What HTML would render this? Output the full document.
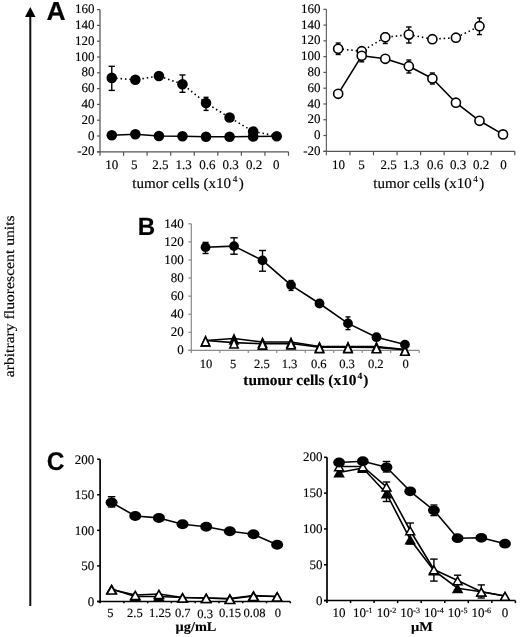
<!DOCTYPE html><html><head><meta charset="utf-8"><style>html,body{margin:0;padding:0;background:#fff;}svg{display:block;will-change:transform;} text{text-rendering:geometricPrecision;stroke:#000;stroke-width:0.15px;}</style></head><body>
<svg width="520" height="637" viewBox="0 0 520 637">
<rect width="520" height="637" fill="#fff"/>
<line x1="30.30" y1="14.00" x2="30.30" y2="606.00" stroke="#111" stroke-width="2" />
<polygon points="30.3,7 25,17 35.5,17" fill="#000"/>
<text transform="translate(13.9,377.3) rotate(-90)" font-size="14" font-family='"Liberation Serif", serif' textLength="162" lengthAdjust="spacingAndGlyphs">arbitrary fluorescent units</text>
<text transform="translate(46.45,19.7) scale(1.02,1)" font-size="26" font-weight="bold" font-family='"Liberation Sans", sans-serif'>A</text>
<text transform="translate(137.8,235.1) scale(0.97,1)" font-size="24.9" font-weight="bold" font-family='"Liberation Sans", sans-serif'>B</text>
<text transform="translate(46.85,469.85) scale(0.96,1)" font-size="25.6" font-weight="bold" font-family='"Liberation Sans", sans-serif'>C</text>
<line x1="100.00" y1="9.60" x2="100.00" y2="155.80" stroke="#7a7a7a" stroke-width="1.6" />
<line x1="97.00" y1="151.80" x2="288.50" y2="151.80" stroke="#555" stroke-width="1.2" />
<line x1="97.00" y1="9.60" x2="100.00" y2="9.60" stroke="#555" stroke-width="1.2" />
<line x1="97.00" y1="25.40" x2="100.00" y2="25.40" stroke="#555" stroke-width="1.2" />
<line x1="97.00" y1="41.20" x2="100.00" y2="41.20" stroke="#555" stroke-width="1.2" />
<line x1="97.00" y1="57.00" x2="100.00" y2="57.00" stroke="#555" stroke-width="1.2" />
<line x1="97.00" y1="72.80" x2="100.00" y2="72.80" stroke="#555" stroke-width="1.2" />
<line x1="97.00" y1="88.60" x2="100.00" y2="88.60" stroke="#555" stroke-width="1.2" />
<line x1="97.00" y1="104.40" x2="100.00" y2="104.40" stroke="#555" stroke-width="1.2" />
<line x1="97.00" y1="120.20" x2="100.00" y2="120.20" stroke="#555" stroke-width="1.2" />
<line x1="97.00" y1="136.00" x2="100.00" y2="136.00" stroke="#555" stroke-width="1.2" />
<line x1="97.00" y1="151.80" x2="100.00" y2="151.80" stroke="#555" stroke-width="1.2" />
<text x="94.50" y="13.20" font-size="13" text-anchor="end" font-weight="normal" font-family='"Liberation Serif", serif' >160</text>
<text x="94.50" y="29.00" font-size="13" text-anchor="end" font-weight="normal" font-family='"Liberation Serif", serif' >140</text>
<text x="94.50" y="44.80" font-size="13" text-anchor="end" font-weight="normal" font-family='"Liberation Serif", serif' >120</text>
<text x="94.50" y="60.60" font-size="13" text-anchor="end" font-weight="normal" font-family='"Liberation Serif", serif' >100</text>
<text x="94.50" y="76.40" font-size="13" text-anchor="end" font-weight="normal" font-family='"Liberation Serif", serif' >80</text>
<text x="94.50" y="92.20" font-size="13" text-anchor="end" font-weight="normal" font-family='"Liberation Serif", serif' >60</text>
<text x="94.50" y="108.00" font-size="13" text-anchor="end" font-weight="normal" font-family='"Liberation Serif", serif' >40</text>
<text x="94.50" y="123.80" font-size="13" text-anchor="end" font-weight="normal" font-family='"Liberation Serif", serif' >20</text>
<text x="94.50" y="139.60" font-size="13" text-anchor="end" font-weight="normal" font-family='"Liberation Serif", serif' >0</text>
<text x="94.50" y="155.40" font-size="13" text-anchor="end" font-weight="normal" font-family='"Liberation Serif", serif' >-20</text>
<line x1="123.56" y1="151.80" x2="123.56" y2="155.80" stroke="#555" stroke-width="1.2" />
<line x1="147.12" y1="151.80" x2="147.12" y2="155.80" stroke="#555" stroke-width="1.2" />
<line x1="170.69" y1="151.80" x2="170.69" y2="155.80" stroke="#555" stroke-width="1.2" />
<line x1="194.25" y1="151.80" x2="194.25" y2="155.80" stroke="#555" stroke-width="1.2" />
<line x1="217.81" y1="151.80" x2="217.81" y2="155.80" stroke="#555" stroke-width="1.2" />
<line x1="241.38" y1="151.80" x2="241.38" y2="155.80" stroke="#555" stroke-width="1.2" />
<line x1="264.94" y1="151.80" x2="264.94" y2="155.80" stroke="#555" stroke-width="1.2" />
<line x1="288.50" y1="151.80" x2="288.50" y2="155.80" stroke="#555" stroke-width="1.2" />
<text x="111.75" y="169.20" font-size="13" text-anchor="middle" font-weight="normal" font-family='"Liberation Serif", serif' >10</text>
<text x="134.30" y="169.20" font-size="13" text-anchor="middle" font-weight="normal" font-family='"Liberation Serif", serif' >5</text>
<text x="160.30" y="169.20" font-size="13" text-anchor="middle" font-weight="normal" font-family='"Liberation Serif", serif' >2.5</text>
<text x="183.65" y="169.20" font-size="13" text-anchor="middle" font-weight="normal" font-family='"Liberation Serif", serif' >1.3</text>
<text x="207.40" y="169.20" font-size="13" text-anchor="middle" font-weight="normal" font-family='"Liberation Serif", serif' >0.6</text>
<text x="230.70" y="169.20" font-size="13" text-anchor="middle" font-weight="normal" font-family='"Liberation Serif", serif' >0.3</text>
<text x="254.00" y="169.20" font-size="13" text-anchor="middle" font-weight="normal" font-family='"Liberation Serif", serif' >0.2</text>
<text x="276.35" y="169.20" font-size="13" text-anchor="middle" font-weight="normal" font-family='"Liberation Serif", serif' >0</text>
<text x="132.30" y="187.50" font-size="14.8" text-anchor="start" font-weight="normal" font-family='"Liberation Serif", serif' textLength="111.5" lengthAdjust="spacingAndGlyphs" >tumor cells (x10<tspan font-size="9" dy="-6" dx="1.6">4</tspan><tspan dy="6" dx="1.4">)</tspan></text>
<polyline points="111.78,77.90 135.34,79.80 158.91,76.00 182.47,84.20 206.03,103.10 229.59,117.50 253.16,131.50 276.72,136.00" fill="none" stroke="#000" stroke-width="1.6" stroke-linejoin="round" stroke-dasharray="1.5 2.9"/>
<polyline points="111.78,135.20 135.34,134.30 158.91,136.00 182.47,136.20 206.03,136.70 229.59,136.70 253.16,136.50 276.72,136.30" fill="none" stroke="#000" stroke-width="1.6" stroke-linejoin="round" />
<line x1="111.78" y1="66.30" x2="111.78" y2="90.40" stroke="#000" stroke-width="1.4" />
<line x1="108.63" y1="66.30" x2="114.93" y2="66.30" stroke="#000" stroke-width="1.4" />
<line x1="108.63" y1="90.40" x2="114.93" y2="90.40" stroke="#000" stroke-width="1.4" />
<line x1="182.47" y1="75.00" x2="182.47" y2="92.30" stroke="#000" stroke-width="1.4" />
<line x1="179.47" y1="75.00" x2="185.47" y2="75.00" stroke="#000" stroke-width="1.4" />
<line x1="179.47" y1="92.30" x2="185.47" y2="92.30" stroke="#000" stroke-width="1.4" />
<line x1="206.03" y1="97.30" x2="206.03" y2="110.40" stroke="#000" stroke-width="1.4" />
<line x1="203.53" y1="97.30" x2="208.53" y2="97.30" stroke="#000" stroke-width="1.4" />
<line x1="203.53" y1="110.40" x2="208.53" y2="110.40" stroke="#000" stroke-width="1.4" />
<circle cx="111.78" cy="77.90" r="5.3" fill="#000" stroke="none" stroke-width="0"/>
<circle cx="135.34" cy="79.80" r="5.3" fill="#000" stroke="none" stroke-width="0"/>
<circle cx="158.91" cy="76.00" r="5.3" fill="#000" stroke="none" stroke-width="0"/>
<circle cx="182.47" cy="84.20" r="5.3" fill="#000" stroke="none" stroke-width="0"/>
<circle cx="206.03" cy="103.10" r="5.3" fill="#000" stroke="none" stroke-width="0"/>
<circle cx="229.59" cy="117.50" r="5.3" fill="#000" stroke="none" stroke-width="0"/>
<circle cx="253.16" cy="131.50" r="5.3" fill="#000" stroke="none" stroke-width="0"/>
<circle cx="111.78" cy="135.20" r="5.3" fill="#000" stroke="none" stroke-width="0"/>
<circle cx="135.34" cy="134.30" r="5.3" fill="#000" stroke="none" stroke-width="0"/>
<circle cx="158.91" cy="136.00" r="5.3" fill="#000" stroke="none" stroke-width="0"/>
<circle cx="182.47" cy="136.20" r="5.3" fill="#000" stroke="none" stroke-width="0"/>
<circle cx="206.03" cy="136.70" r="5.3" fill="#000" stroke="none" stroke-width="0"/>
<circle cx="229.59" cy="136.70" r="5.3" fill="#000" stroke="none" stroke-width="0"/>
<circle cx="253.16" cy="136.50" r="5.3" fill="#000" stroke="none" stroke-width="0"/>
<circle cx="276.72" cy="136.30" r="5.3" fill="#000" stroke="none" stroke-width="0"/>
<line x1="326.40" y1="9.30" x2="326.40" y2="155.30" stroke="#666" stroke-width="1.2" />
<line x1="323.40" y1="151.30" x2="514.80" y2="151.30" stroke="#555" stroke-width="1.2" />
<line x1="323.40" y1="9.30" x2="326.40" y2="9.30" stroke="#555" stroke-width="1.2" />
<line x1="323.40" y1="25.08" x2="326.40" y2="25.08" stroke="#555" stroke-width="1.2" />
<line x1="323.40" y1="40.86" x2="326.40" y2="40.86" stroke="#555" stroke-width="1.2" />
<line x1="323.40" y1="56.63" x2="326.40" y2="56.63" stroke="#555" stroke-width="1.2" />
<line x1="323.40" y1="72.41" x2="326.40" y2="72.41" stroke="#555" stroke-width="1.2" />
<line x1="323.40" y1="88.19" x2="326.40" y2="88.19" stroke="#555" stroke-width="1.2" />
<line x1="323.40" y1="103.97" x2="326.40" y2="103.97" stroke="#555" stroke-width="1.2" />
<line x1="323.40" y1="119.74" x2="326.40" y2="119.74" stroke="#555" stroke-width="1.2" />
<line x1="323.40" y1="135.52" x2="326.40" y2="135.52" stroke="#555" stroke-width="1.2" />
<line x1="323.40" y1="151.30" x2="326.40" y2="151.30" stroke="#555" stroke-width="1.2" />
<text x="320.50" y="12.90" font-size="13" text-anchor="end" font-weight="normal" font-family='"Liberation Serif", serif' >160</text>
<text x="320.50" y="28.68" font-size="13" text-anchor="end" font-weight="normal" font-family='"Liberation Serif", serif' >140</text>
<text x="320.50" y="44.46" font-size="13" text-anchor="end" font-weight="normal" font-family='"Liberation Serif", serif' >120</text>
<text x="320.50" y="60.23" font-size="13" text-anchor="end" font-weight="normal" font-family='"Liberation Serif", serif' >100</text>
<text x="320.50" y="76.01" font-size="13" text-anchor="end" font-weight="normal" font-family='"Liberation Serif", serif' >80</text>
<text x="320.50" y="91.79" font-size="13" text-anchor="end" font-weight="normal" font-family='"Liberation Serif", serif' >60</text>
<text x="320.50" y="107.57" font-size="13" text-anchor="end" font-weight="normal" font-family='"Liberation Serif", serif' >40</text>
<text x="320.50" y="123.34" font-size="13" text-anchor="end" font-weight="normal" font-family='"Liberation Serif", serif' >20</text>
<text x="320.50" y="139.12" font-size="13" text-anchor="end" font-weight="normal" font-family='"Liberation Serif", serif' >0</text>
<text x="320.50" y="154.90" font-size="13" text-anchor="end" font-weight="normal" font-family='"Liberation Serif", serif' >-20</text>
<line x1="349.95" y1="151.30" x2="349.95" y2="155.30" stroke="#555" stroke-width="1.2" />
<line x1="373.50" y1="151.30" x2="373.50" y2="155.30" stroke="#555" stroke-width="1.2" />
<line x1="397.05" y1="151.30" x2="397.05" y2="155.30" stroke="#555" stroke-width="1.2" />
<line x1="420.60" y1="151.30" x2="420.60" y2="155.30" stroke="#555" stroke-width="1.2" />
<line x1="444.15" y1="151.30" x2="444.15" y2="155.30" stroke="#555" stroke-width="1.2" />
<line x1="467.70" y1="151.30" x2="467.70" y2="155.30" stroke="#555" stroke-width="1.2" />
<line x1="491.25" y1="151.30" x2="491.25" y2="155.30" stroke="#555" stroke-width="1.2" />
<line x1="514.80" y1="151.30" x2="514.80" y2="155.30" stroke="#555" stroke-width="1.2" />
<text x="338.60" y="168.90" font-size="13" text-anchor="middle" font-weight="normal" font-family='"Liberation Serif", serif' >10</text>
<text x="361.60" y="168.90" font-size="13" text-anchor="middle" font-weight="normal" font-family='"Liberation Serif", serif' >5</text>
<text x="388.60" y="168.90" font-size="13" text-anchor="middle" font-weight="normal" font-family='"Liberation Serif", serif' >2.5</text>
<text x="411.20" y="168.90" font-size="13" text-anchor="middle" font-weight="normal" font-family='"Liberation Serif", serif' >1.3</text>
<text x="435.00" y="168.90" font-size="13" text-anchor="middle" font-weight="normal" font-family='"Liberation Serif", serif' >0.6</text>
<text x="458.00" y="168.90" font-size="13" text-anchor="middle" font-weight="normal" font-family='"Liberation Serif", serif' >0.3</text>
<text x="481.00" y="168.90" font-size="13" text-anchor="middle" font-weight="normal" font-family='"Liberation Serif", serif' >0.2</text>
<text x="503.60" y="168.90" font-size="13" text-anchor="middle" font-weight="normal" font-family='"Liberation Serif", serif' >0</text>
<text x="373.30" y="187.70" font-size="14.8" text-anchor="start" font-weight="normal" font-family='"Liberation Serif", serif' textLength="111" lengthAdjust="spacingAndGlyphs" >tumor cells (x10<tspan font-size="9" dy="-6" dx="1.6">4</tspan><tspan dy="6" dx="1.4">)</tspan></text>
<polyline points="338.17,48.80 361.72,51.20 385.27,37.30 408.82,34.60 432.38,39.20 455.92,37.70 479.47,26.20" fill="none" stroke="#000" stroke-width="1.6" stroke-linejoin="round" stroke-dasharray="1.5 2.9"/>
<polyline points="338.17,93.80 361.72,55.80 385.27,58.80 408.82,66.20 432.38,78.50 455.92,102.70 479.47,120.80 503.02,134.40" fill="none" stroke="#000" stroke-width="1.6" stroke-linejoin="round" />
<line x1="338.17" y1="43.00" x2="338.17" y2="54.50" stroke="#000" stroke-width="1.4" />
<line x1="335.67" y1="43.00" x2="340.67" y2="43.00" stroke="#000" stroke-width="1.4" />
<line x1="335.67" y1="54.50" x2="340.67" y2="54.50" stroke="#000" stroke-width="1.4" />
<line x1="385.27" y1="33.00" x2="385.27" y2="43.50" stroke="#000" stroke-width="1.4" />
<line x1="382.77" y1="33.00" x2="387.77" y2="33.00" stroke="#000" stroke-width="1.4" />
<line x1="382.77" y1="43.50" x2="387.77" y2="43.50" stroke="#000" stroke-width="1.4" />
<line x1="408.82" y1="27.00" x2="408.82" y2="43.00" stroke="#000" stroke-width="1.4" />
<line x1="406.07" y1="27.00" x2="411.57" y2="27.00" stroke="#000" stroke-width="1.4" />
<line x1="406.07" y1="43.00" x2="411.57" y2="43.00" stroke="#000" stroke-width="1.4" />
<line x1="479.47" y1="18.00" x2="479.47" y2="34.60" stroke="#000" stroke-width="1.4" />
<line x1="476.97" y1="18.00" x2="481.97" y2="18.00" stroke="#000" stroke-width="1.4" />
<line x1="476.97" y1="34.60" x2="481.97" y2="34.60" stroke="#000" stroke-width="1.4" />
<line x1="408.82" y1="60.00" x2="408.82" y2="73.00" stroke="#000" stroke-width="1.4" />
<line x1="406.32" y1="60.00" x2="411.32" y2="60.00" stroke="#000" stroke-width="1.4" />
<line x1="406.32" y1="73.00" x2="411.32" y2="73.00" stroke="#000" stroke-width="1.4" />
<line x1="361.72" y1="50.00" x2="361.72" y2="61.80" stroke="#000" stroke-width="1.4" />
<line x1="359.22" y1="50.00" x2="364.22" y2="50.00" stroke="#000" stroke-width="1.4" />
<line x1="359.22" y1="61.80" x2="364.22" y2="61.80" stroke="#000" stroke-width="1.4" />
<line x1="432.38" y1="73.00" x2="432.38" y2="84.00" stroke="#000" stroke-width="1.4" />
<line x1="429.88" y1="73.00" x2="434.88" y2="73.00" stroke="#000" stroke-width="1.4" />
<line x1="429.88" y1="84.00" x2="434.88" y2="84.00" stroke="#000" stroke-width="1.4" />
<circle cx="338.17" cy="48.80" r="4.55" fill="#fff" stroke="#000" stroke-width="1.6"/>
<circle cx="361.72" cy="51.20" r="4.55" fill="#fff" stroke="#000" stroke-width="1.6"/>
<circle cx="385.27" cy="37.30" r="4.55" fill="#fff" stroke="#000" stroke-width="1.6"/>
<circle cx="408.82" cy="34.60" r="4.55" fill="#fff" stroke="#000" stroke-width="1.6"/>
<circle cx="432.38" cy="39.20" r="4.55" fill="#fff" stroke="#000" stroke-width="1.6"/>
<circle cx="455.92" cy="37.70" r="4.55" fill="#fff" stroke="#000" stroke-width="1.6"/>
<circle cx="479.47" cy="26.20" r="4.55" fill="#fff" stroke="#000" stroke-width="1.6"/>
<circle cx="338.17" cy="93.80" r="4.55" fill="#fff" stroke="#000" stroke-width="1.6"/>
<circle cx="361.72" cy="55.80" r="4.55" fill="#fff" stroke="#000" stroke-width="1.6"/>
<circle cx="385.27" cy="58.80" r="4.55" fill="#fff" stroke="#000" stroke-width="1.6"/>
<circle cx="408.82" cy="66.20" r="4.55" fill="#fff" stroke="#000" stroke-width="1.6"/>
<circle cx="432.38" cy="78.50" r="4.55" fill="#fff" stroke="#000" stroke-width="1.6"/>
<circle cx="455.92" cy="102.70" r="4.55" fill="#fff" stroke="#000" stroke-width="1.6"/>
<circle cx="479.47" cy="120.80" r="4.55" fill="#fff" stroke="#000" stroke-width="1.6"/>
<circle cx="503.02" cy="134.40" r="4.55" fill="#fff" stroke="#000" stroke-width="1.6"/>
<line x1="191.30" y1="223.80" x2="191.30" y2="352.90" stroke="#8a8a8a" stroke-width="1.2" />
<line x1="188.30" y1="350.40" x2="419.20" y2="350.40" stroke="#8a8a8a" stroke-width="1.2" />
<line x1="188.30" y1="223.80" x2="191.30" y2="223.80" stroke="#8a8a8a" stroke-width="1.2" />
<line x1="188.30" y1="241.89" x2="191.30" y2="241.89" stroke="#8a8a8a" stroke-width="1.2" />
<line x1="188.30" y1="259.97" x2="191.30" y2="259.97" stroke="#8a8a8a" stroke-width="1.2" />
<line x1="188.30" y1="278.06" x2="191.30" y2="278.06" stroke="#8a8a8a" stroke-width="1.2" />
<line x1="188.30" y1="296.14" x2="191.30" y2="296.14" stroke="#8a8a8a" stroke-width="1.2" />
<line x1="188.30" y1="314.23" x2="191.30" y2="314.23" stroke="#8a8a8a" stroke-width="1.2" />
<line x1="188.30" y1="332.31" x2="191.30" y2="332.31" stroke="#8a8a8a" stroke-width="1.2" />
<line x1="188.30" y1="350.40" x2="191.30" y2="350.40" stroke="#8a8a8a" stroke-width="1.2" />
<text x="183.70" y="227.80" font-size="13" text-anchor="end" font-weight="normal" font-family='"Liberation Serif", serif' >140</text>
<text x="183.70" y="245.89" font-size="13" text-anchor="end" font-weight="normal" font-family='"Liberation Serif", serif' >120</text>
<text x="183.70" y="263.97" font-size="13" text-anchor="end" font-weight="normal" font-family='"Liberation Serif", serif' >100</text>
<text x="183.70" y="282.06" font-size="13" text-anchor="end" font-weight="normal" font-family='"Liberation Serif", serif' >80</text>
<text x="183.70" y="300.14" font-size="13" text-anchor="end" font-weight="normal" font-family='"Liberation Serif", serif' >60</text>
<text x="183.70" y="318.23" font-size="13" text-anchor="end" font-weight="normal" font-family='"Liberation Serif", serif' >40</text>
<text x="183.70" y="336.31" font-size="13" text-anchor="end" font-weight="normal" font-family='"Liberation Serif", serif' >20</text>
<text x="183.70" y="354.40" font-size="13" text-anchor="end" font-weight="normal" font-family='"Liberation Serif", serif' >0</text>
<line x1="219.79" y1="350.40" x2="219.79" y2="352.90" stroke="#8a8a8a" stroke-width="1.2" />
<line x1="248.28" y1="350.40" x2="248.28" y2="352.90" stroke="#8a8a8a" stroke-width="1.2" />
<line x1="276.76" y1="350.40" x2="276.76" y2="352.90" stroke="#8a8a8a" stroke-width="1.2" />
<line x1="305.25" y1="350.40" x2="305.25" y2="352.90" stroke="#8a8a8a" stroke-width="1.2" />
<line x1="333.74" y1="350.40" x2="333.74" y2="352.90" stroke="#8a8a8a" stroke-width="1.2" />
<line x1="362.23" y1="350.40" x2="362.23" y2="352.90" stroke="#8a8a8a" stroke-width="1.2" />
<line x1="390.71" y1="350.40" x2="390.71" y2="352.90" stroke="#8a8a8a" stroke-width="1.2" />
<line x1="419.20" y1="350.40" x2="419.20" y2="352.90" stroke="#8a8a8a" stroke-width="1.2" />
<text x="206.00" y="367.50" font-size="12.6" text-anchor="middle" font-weight="normal" font-family='"Liberation Serif", serif' >10</text>
<text x="233.20" y="367.50" font-size="12.6" text-anchor="middle" font-weight="normal" font-family='"Liberation Serif", serif' >5</text>
<text x="261.90" y="367.50" font-size="12.6" text-anchor="middle" font-weight="normal" font-family='"Liberation Serif", serif' >2.5</text>
<text x="289.50" y="367.50" font-size="12.6" text-anchor="middle" font-weight="normal" font-family='"Liberation Serif", serif' >1.3</text>
<text x="318.80" y="367.50" font-size="12.6" text-anchor="middle" font-weight="normal" font-family='"Liberation Serif", serif' >0.6</text>
<text x="347.00" y="367.50" font-size="12.6" text-anchor="middle" font-weight="normal" font-family='"Liberation Serif", serif' >0.3</text>
<text x="375.80" y="367.50" font-size="12.6" text-anchor="middle" font-weight="normal" font-family='"Liberation Serif", serif' >0.2</text>
<text x="405.60" y="367.50" font-size="12.6" text-anchor="middle" font-weight="normal" font-family='"Liberation Serif", serif' >0</text>
<text x="243.30" y="385.40" font-size="15.2" text-anchor="start" font-weight="bold" font-family='"Liberation Serif", serif' textLength="125" lengthAdjust="spacingAndGlyphs" >tumour cells (x10<tspan font-size="9.5" dy="-6" dx="1">4</tspan><tspan dy="6" dx="0.8">)</tspan></text>
<polyline points="205.54,340.50 234.03,338.50 262.52,342.00 291.01,342.00 319.49,346.50 347.98,346.50 376.47,346.50 404.96,349.50" fill="none" stroke="#000" stroke-width="1.6" stroke-linejoin="round" />
<polyline points="205.54,340.50 234.03,342.60 262.52,343.70 291.01,343.50 319.49,347.20 347.98,347.20 376.47,347.40 404.96,349.80" fill="none" stroke="#000" stroke-width="1.6" stroke-linejoin="round" />
<polyline points="205.54,247.20 234.03,246.10 262.52,260.40 291.01,285.10 319.49,303.50 347.98,323.40 376.47,337.20 404.96,344.60" fill="none" stroke="#000" stroke-width="1.6" stroke-linejoin="round" />
<line x1="205.54" y1="242.40" x2="205.54" y2="253.50" stroke="#000" stroke-width="1.4" />
<line x1="202.54" y1="242.40" x2="208.54" y2="242.40" stroke="#000" stroke-width="1.4" />
<line x1="202.54" y1="253.50" x2="208.54" y2="253.50" stroke="#000" stroke-width="1.4" />
<line x1="234.03" y1="237.80" x2="234.03" y2="254.20" stroke="#000" stroke-width="1.4" />
<line x1="230.33" y1="237.80" x2="237.73" y2="237.80" stroke="#000" stroke-width="1.4" />
<line x1="230.33" y1="254.20" x2="237.73" y2="254.20" stroke="#000" stroke-width="1.4" />
<line x1="262.52" y1="250.50" x2="262.52" y2="271.20" stroke="#000" stroke-width="1.4" />
<line x1="259.02" y1="250.50" x2="266.02" y2="250.50" stroke="#000" stroke-width="1.4" />
<line x1="259.02" y1="271.20" x2="266.02" y2="271.20" stroke="#000" stroke-width="1.4" />
<line x1="291.01" y1="280.50" x2="291.01" y2="290.40" stroke="#000" stroke-width="1.4" />
<line x1="288.51" y1="280.50" x2="293.51" y2="280.50" stroke="#000" stroke-width="1.4" />
<line x1="288.51" y1="290.40" x2="293.51" y2="290.40" stroke="#000" stroke-width="1.4" />
<line x1="347.98" y1="316.90" x2="347.98" y2="329.60" stroke="#000" stroke-width="1.4" />
<line x1="345.48" y1="316.90" x2="350.48" y2="316.90" stroke="#000" stroke-width="1.4" />
<line x1="345.48" y1="329.60" x2="350.48" y2="329.60" stroke="#000" stroke-width="1.4" />
<polygon points="205.54,334.90 200.14,346.70 210.94,346.70" fill="#000"/>
<polygon points="234.03,332.90 228.63,344.70 239.43,344.70" fill="#000"/>
<polygon points="262.52,336.40 257.12,348.20 267.92,348.20" fill="#000"/>
<polygon points="291.01,336.40 285.61,348.20 296.41,348.20" fill="#000"/>
<polygon points="319.49,340.90 314.09,352.70 324.89,352.70" fill="#000"/>
<polygon points="347.98,340.90 342.58,352.70 353.38,352.70" fill="#000"/>
<polygon points="376.47,340.90 371.07,352.70 381.87,352.70" fill="#000"/>
<polygon points="404.96,343.90 399.56,355.70 410.36,355.70" fill="#000"/>
<polygon points="205.54,334.90 200.14,346.70 210.94,346.70" fill="#000"/>
<polygon points="205.54,338.75 202.64,345.10 208.45,345.10" fill="#fff"/>
<polygon points="234.03,337.00 228.63,348.80 239.43,348.80" fill="#000"/>
<polygon points="234.03,340.85 231.12,347.20 236.94,347.20" fill="#fff"/>
<polygon points="262.52,338.10 257.12,349.90 267.92,349.90" fill="#000"/>
<polygon points="262.52,341.95 259.61,348.30 265.43,348.30" fill="#fff"/>
<polygon points="291.01,337.90 285.61,349.70 296.41,349.70" fill="#000"/>
<polygon points="291.01,341.75 288.10,348.10 293.91,348.10" fill="#fff"/>
<polygon points="319.49,341.60 314.09,353.40 324.89,353.40" fill="#000"/>
<polygon points="319.49,345.45 316.59,351.80 322.40,351.80" fill="#fff"/>
<polygon points="347.98,341.60 342.58,353.40 353.38,353.40" fill="#000"/>
<polygon points="347.98,345.45 345.07,351.80 350.89,351.80" fill="#fff"/>
<polygon points="376.47,341.80 371.07,353.60 381.87,353.60" fill="#000"/>
<polygon points="376.47,345.65 373.56,352.00 379.38,352.00" fill="#fff"/>
<polygon points="404.96,344.20 399.56,356.00 410.36,356.00" fill="#000"/>
<polygon points="404.96,348.05 402.05,354.40 407.86,354.40" fill="#fff"/>
<circle cx="205.54" cy="247.20" r="4.9" fill="#000" stroke="none" stroke-width="0"/>
<circle cx="234.03" cy="246.10" r="4.9" fill="#000" stroke="none" stroke-width="0"/>
<circle cx="262.52" cy="260.40" r="4.9" fill="#000" stroke="none" stroke-width="0"/>
<circle cx="291.01" cy="285.10" r="4.9" fill="#000" stroke="none" stroke-width="0"/>
<circle cx="319.49" cy="303.50" r="4.9" fill="#000" stroke="none" stroke-width="0"/>
<circle cx="347.98" cy="323.40" r="4.9" fill="#000" stroke="none" stroke-width="0"/>
<circle cx="376.47" cy="337.20" r="4.9" fill="#000" stroke="none" stroke-width="0"/>
<circle cx="404.96" cy="344.60" r="4.9" fill="#000" stroke="none" stroke-width="0"/>
<line x1="100.10" y1="459.20" x2="100.10" y2="603.30" stroke="#000" stroke-width="1.7" />
<line x1="97.10" y1="601.50" x2="290.30" y2="601.50" stroke="#000" stroke-width="1.5" />
<line x1="97.10" y1="459.20" x2="100.10" y2="459.20" stroke="#000" stroke-width="1.5" />
<line x1="97.10" y1="494.77" x2="100.10" y2="494.77" stroke="#000" stroke-width="1.5" />
<line x1="97.10" y1="530.35" x2="100.10" y2="530.35" stroke="#000" stroke-width="1.5" />
<line x1="97.10" y1="565.92" x2="100.10" y2="565.92" stroke="#000" stroke-width="1.5" />
<line x1="97.10" y1="601.50" x2="100.10" y2="601.50" stroke="#000" stroke-width="1.5" />
<text x="94.30" y="463.50" font-size="13" text-anchor="end" font-weight="normal" font-family='"Liberation Serif", serif' >200</text>
<text x="94.30" y="499.07" font-size="13" text-anchor="end" font-weight="normal" font-family='"Liberation Serif", serif' >150</text>
<text x="94.30" y="534.65" font-size="13" text-anchor="end" font-weight="normal" font-family='"Liberation Serif", serif' >100</text>
<text x="94.30" y="570.22" font-size="13" text-anchor="end" font-weight="normal" font-family='"Liberation Serif", serif' >50</text>
<text x="94.30" y="605.80" font-size="13" text-anchor="end" font-weight="normal" font-family='"Liberation Serif", serif' >0</text>
<line x1="123.88" y1="601.50" x2="123.88" y2="603.30" stroke="#000" stroke-width="1.5" />
<line x1="147.65" y1="601.50" x2="147.65" y2="603.30" stroke="#000" stroke-width="1.5" />
<line x1="171.43" y1="601.50" x2="171.43" y2="603.30" stroke="#000" stroke-width="1.5" />
<line x1="195.20" y1="601.50" x2="195.20" y2="603.30" stroke="#000" stroke-width="1.5" />
<line x1="218.98" y1="601.50" x2="218.98" y2="603.30" stroke="#000" stroke-width="1.5" />
<line x1="242.75" y1="601.50" x2="242.75" y2="603.30" stroke="#000" stroke-width="1.5" />
<line x1="266.52" y1="601.50" x2="266.52" y2="603.30" stroke="#000" stroke-width="1.5" />
<line x1="290.30" y1="601.50" x2="290.30" y2="603.30" stroke="#000" stroke-width="1.5" />
<text x="110.35" y="617.20" font-size="12.6" text-anchor="middle" font-weight="normal" font-family='"Liberation Serif", serif' >5</text>
<text x="134.95" y="617.20" font-size="12.6" text-anchor="middle" font-weight="normal" font-family='"Liberation Serif", serif' >2.5</text>
<text x="160.00" y="617.20" font-size="12.6" text-anchor="middle" font-weight="normal" font-family='"Liberation Serif", serif' >1.25</text>
<text x="182.75" y="617.20" font-size="12.6" text-anchor="middle" font-weight="normal" font-family='"Liberation Serif", serif' >0.7</text>
<text x="205.20" y="618.20" font-size="12.6" text-anchor="middle" font-weight="normal" font-family='"Liberation Serif", serif' >0.3</text>
<text x="230.00" y="617.20" font-size="12.6" text-anchor="middle" font-weight="normal" font-family='"Liberation Serif", serif' >0.15</text>
<text x="254.55" y="617.20" font-size="12.6" text-anchor="middle" font-weight="normal" font-family='"Liberation Serif", serif' >0.08</text>
<text x="277.80" y="617.20" font-size="12.6" text-anchor="middle" font-weight="normal" font-family='"Liberation Serif", serif' >0</text>
<text x="175.60" y="631.10" font-size="13.4" text-anchor="start" font-weight="bold" font-family='"Liberation Serif", serif' textLength="40.8" lengthAdjust="spacingAndGlyphs" >µg/mL</text>
<polyline points="111.60,589.00 135.25,596.50 158.90,596.50 182.55,597.50 206.20,598.00 229.85,598.50 253.50,595.50 277.15,596.50" fill="none" stroke="#000" stroke-width="1.6" stroke-linejoin="round" />
<polyline points="111.60,589.50 135.25,595.00 158.90,594.00 182.55,597.50 206.20,598.00 229.85,599.00 253.50,596.00 277.15,596.50" fill="none" stroke="#000" stroke-width="1.6" stroke-linejoin="round" />
<polyline points="111.60,502.50 135.25,516.00 158.90,517.90 182.55,524.20 206.20,526.70 229.85,531.30 253.50,534.30 277.15,544.80" fill="none" stroke="#000" stroke-width="1.6" stroke-linejoin="round" />
<line x1="111.60" y1="496.70" x2="111.60" y2="507.00" stroke="#000" stroke-width="1.4" />
<line x1="107.85" y1="496.70" x2="115.35" y2="496.70" stroke="#000" stroke-width="1.4" />
<line x1="107.85" y1="507.00" x2="115.35" y2="507.00" stroke="#000" stroke-width="1.4" />
<polygon points="111.60,583.75 105.60,594.25 117.60,594.25" fill="#000"/>
<polygon points="135.25,591.25 129.25,601.75 141.25,601.75" fill="#000"/>
<polygon points="158.90,591.25 152.90,601.75 164.90,601.75" fill="#000"/>
<polygon points="182.55,592.25 176.55,602.75 188.55,602.75" fill="#000"/>
<polygon points="206.20,592.75 200.20,603.25 212.20,603.25" fill="#000"/>
<polygon points="229.85,593.25 223.85,603.75 235.85,603.75" fill="#000"/>
<polygon points="253.50,590.25 247.50,600.75 259.50,600.75" fill="#000"/>
<polygon points="277.15,591.25 271.15,601.75 283.15,601.75" fill="#000"/>
<polygon points="111.60,584.25 105.60,594.75 117.60,594.75" fill="#000"/>
<polygon points="111.60,587.47 108.36,593.15 114.84,593.15" fill="#fff"/>
<polygon points="135.25,589.75 129.25,600.25 141.25,600.25" fill="#000"/>
<polygon points="135.25,592.97 132.01,598.65 138.49,598.65" fill="#fff"/>
<polygon points="158.90,588.75 152.90,599.25 164.90,599.25" fill="#000"/>
<polygon points="158.90,591.97 155.66,597.65 162.14,597.65" fill="#fff"/>
<polygon points="182.55,592.25 176.55,602.75 188.55,602.75" fill="#000"/>
<polygon points="182.55,595.47 179.31,601.15 185.79,601.15" fill="#fff"/>
<polygon points="206.20,592.75 200.20,603.25 212.20,603.25" fill="#000"/>
<polygon points="206.20,595.97 202.96,601.65 209.44,601.65" fill="#fff"/>
<polygon points="229.85,593.75 223.85,604.25 235.85,604.25" fill="#000"/>
<polygon points="229.85,596.97 226.61,602.65 233.09,602.65" fill="#fff"/>
<polygon points="253.50,590.75 247.50,601.25 259.50,601.25" fill="#000"/>
<polygon points="253.50,593.97 250.26,599.65 256.74,599.65" fill="#fff"/>
<polygon points="277.15,591.25 271.15,601.75 283.15,601.75" fill="#000"/>
<polygon points="277.15,594.47 273.91,600.15 280.39,600.15" fill="#fff"/>
<ellipse cx="111.60" cy="502.50" rx="6" ry="5" fill="#000" stroke="none" stroke-width="0"/>
<ellipse cx="135.25" cy="516.00" rx="6" ry="5" fill="#000" stroke="none" stroke-width="0"/>
<ellipse cx="158.90" cy="517.90" rx="6" ry="5" fill="#000" stroke="none" stroke-width="0"/>
<ellipse cx="182.55" cy="524.20" rx="6" ry="5" fill="#000" stroke="none" stroke-width="0"/>
<ellipse cx="206.20" cy="526.70" rx="6" ry="5" fill="#000" stroke="none" stroke-width="0"/>
<ellipse cx="229.85" cy="531.30" rx="6" ry="5" fill="#000" stroke="none" stroke-width="0"/>
<ellipse cx="253.50" cy="534.30" rx="6" ry="5" fill="#000" stroke="none" stroke-width="0"/>
<ellipse cx="277.15" cy="544.80" rx="6" ry="5" fill="#000" stroke="none" stroke-width="0"/>
<line x1="327.00" y1="457.30" x2="327.00" y2="603.10" stroke="#000" stroke-width="1.7" />
<line x1="324.00" y1="600.60" x2="515.40" y2="600.60" stroke="#000" stroke-width="1.5" />
<line x1="324.00" y1="457.30" x2="327.00" y2="457.30" stroke="#000" stroke-width="1.5" />
<line x1="324.00" y1="493.12" x2="327.00" y2="493.12" stroke="#000" stroke-width="1.5" />
<line x1="324.00" y1="528.95" x2="327.00" y2="528.95" stroke="#000" stroke-width="1.5" />
<line x1="324.00" y1="564.77" x2="327.00" y2="564.77" stroke="#000" stroke-width="1.5" />
<line x1="324.00" y1="600.60" x2="327.00" y2="600.60" stroke="#000" stroke-width="1.5" />
<text x="322.40" y="461.30" font-size="13" text-anchor="end" font-weight="normal" font-family='"Liberation Serif", serif' >200</text>
<text x="322.40" y="497.12" font-size="13" text-anchor="end" font-weight="normal" font-family='"Liberation Serif", serif' >150</text>
<text x="322.40" y="532.95" font-size="13" text-anchor="end" font-weight="normal" font-family='"Liberation Serif", serif' >100</text>
<text x="322.40" y="568.77" font-size="13" text-anchor="end" font-weight="normal" font-family='"Liberation Serif", serif' >50</text>
<text x="322.40" y="604.60" font-size="13" text-anchor="end" font-weight="normal" font-family='"Liberation Serif", serif' >0</text>
<line x1="350.55" y1="600.60" x2="350.55" y2="603.10" stroke="#000" stroke-width="1.5" />
<line x1="374.10" y1="600.60" x2="374.10" y2="603.10" stroke="#000" stroke-width="1.5" />
<line x1="397.65" y1="600.60" x2="397.65" y2="603.10" stroke="#000" stroke-width="1.5" />
<line x1="421.20" y1="600.60" x2="421.20" y2="603.10" stroke="#000" stroke-width="1.5" />
<line x1="444.75" y1="600.60" x2="444.75" y2="603.10" stroke="#000" stroke-width="1.5" />
<line x1="468.30" y1="600.60" x2="468.30" y2="603.10" stroke="#000" stroke-width="1.5" />
<line x1="491.85" y1="600.60" x2="491.85" y2="603.10" stroke="#000" stroke-width="1.5" />
<line x1="515.40" y1="600.60" x2="515.40" y2="603.10" stroke="#000" stroke-width="1.5" />
<text x="339.10" y="616.80" font-size="13" text-anchor="middle" font-weight="normal" font-family='"Liberation Serif", serif' >10</text>
<text x="362.80" y="616.80" font-size="13" text-anchor="middle" font-weight="normal" font-family='"Liberation Serif", serif' >10<tspan font-size="8" dy="-4">-1</tspan></text>
<text x="386.50" y="616.80" font-size="13" text-anchor="middle" font-weight="normal" font-family='"Liberation Serif", serif' >10<tspan font-size="8" dy="-4">-2</tspan></text>
<text x="410.20" y="616.80" font-size="13" text-anchor="middle" font-weight="normal" font-family='"Liberation Serif", serif' >10<tspan font-size="8" dy="-4">-3</tspan></text>
<text x="433.90" y="616.80" font-size="13" text-anchor="middle" font-weight="normal" font-family='"Liberation Serif", serif' >10<tspan font-size="8" dy="-4">-4</tspan></text>
<text x="457.60" y="616.80" font-size="13" text-anchor="middle" font-weight="normal" font-family='"Liberation Serif", serif' >10<tspan font-size="8" dy="-4">-5</tspan></text>
<text x="481.30" y="616.80" font-size="13" text-anchor="middle" font-weight="normal" font-family='"Liberation Serif", serif' >10<tspan font-size="8" dy="-4">-6</tspan></text>
<text x="505.00" y="616.80" font-size="13" text-anchor="middle" font-weight="normal" font-family='"Liberation Serif", serif' >0</text>
<text x="410.90" y="631.00" font-size="13.2" text-anchor="start" font-weight="bold" font-family='"Liberation Serif", serif' textLength="21.8" lengthAdjust="spacingAndGlyphs" >µM</text>
<polyline points="339.10,472.50 362.80,468.00 386.50,493.50 410.20,539.40 433.90,570.50 457.60,588.20 481.30,591.80 505.00,596.00" fill="none" stroke="#000" stroke-width="1.6" stroke-linejoin="round" />
<polyline points="339.10,466.50 362.80,466.50 386.50,486.80 410.20,530.50 433.90,569.50 457.60,580.50 481.30,591.80 505.00,596.00" fill="none" stroke="#000" stroke-width="1.6" stroke-linejoin="round" />
<polyline points="339.10,462.50 362.80,461.20 386.50,467.30 410.20,491.30 433.90,510.30 457.60,538.20 481.30,537.80 505.00,543.70" fill="none" stroke="#000" stroke-width="1.6" stroke-linejoin="round" />
<line x1="386.50" y1="461.50" x2="386.50" y2="472.00" stroke="#000" stroke-width="1.4" />
<line x1="382.75" y1="461.50" x2="390.25" y2="461.50" stroke="#000" stroke-width="1.4" />
<line x1="382.75" y1="472.00" x2="390.25" y2="472.00" stroke="#000" stroke-width="1.4" />
<line x1="386.50" y1="482.00" x2="386.50" y2="501.50" stroke="#000" stroke-width="1.4" />
<line x1="382.75" y1="482.00" x2="390.25" y2="482.00" stroke="#000" stroke-width="1.4" />
<line x1="382.75" y1="501.50" x2="390.25" y2="501.50" stroke="#000" stroke-width="1.4" />
<line x1="410.20" y1="523.00" x2="410.20" y2="544.00" stroke="#000" stroke-width="1.4" />
<line x1="406.45" y1="523.00" x2="413.95" y2="523.00" stroke="#000" stroke-width="1.4" />
<line x1="406.45" y1="544.00" x2="413.95" y2="544.00" stroke="#000" stroke-width="1.4" />
<line x1="433.90" y1="559.10" x2="433.90" y2="581.10" stroke="#000" stroke-width="1.4" />
<line x1="430.15" y1="559.10" x2="437.65" y2="559.10" stroke="#000" stroke-width="1.4" />
<line x1="430.15" y1="581.10" x2="437.65" y2="581.10" stroke="#000" stroke-width="1.4" />
<line x1="457.60" y1="575.20" x2="457.60" y2="590.00" stroke="#000" stroke-width="1.4" />
<line x1="453.95" y1="575.20" x2="461.25" y2="575.20" stroke="#000" stroke-width="1.4" />
<line x1="453.95" y1="590.00" x2="461.25" y2="590.00" stroke="#000" stroke-width="1.4" />
<line x1="433.90" y1="505.00" x2="433.90" y2="515.60" stroke="#000" stroke-width="1.4" />
<line x1="430.40" y1="505.00" x2="437.40" y2="505.00" stroke="#000" stroke-width="1.4" />
<line x1="430.40" y1="515.60" x2="437.40" y2="515.60" stroke="#000" stroke-width="1.4" />
<line x1="481.30" y1="584.90" x2="481.30" y2="598.00" stroke="#000" stroke-width="1.4" />
<line x1="477.65" y1="584.90" x2="484.95" y2="584.90" stroke="#000" stroke-width="1.4" />
<line x1="477.65" y1="598.00" x2="484.95" y2="598.00" stroke="#000" stroke-width="1.4" />
<polygon points="339.10,467.50 333.35,477.50 344.85,477.50" fill="#000"/>
<polygon points="362.80,463.00 357.05,473.00 368.55,473.00" fill="#000"/>
<polygon points="386.50,488.50 380.75,498.50 392.25,498.50" fill="#000"/>
<polygon points="410.20,534.40 404.45,544.40 415.95,544.40" fill="#000"/>
<polygon points="433.90,565.50 428.15,575.50 439.65,575.50" fill="#000"/>
<polygon points="457.60,583.20 451.85,593.20 463.35,593.20" fill="#000"/>
<polygon points="481.30,586.80 475.55,596.80 487.05,596.80" fill="#000"/>
<polygon points="505.00,591.00 499.25,601.00 510.75,601.00" fill="#000"/>
<polygon points="339.10,461.50 333.35,471.50 344.85,471.50" fill="#000"/>
<polygon points="339.10,464.51 335.94,470.00 342.26,470.00" fill="#fff"/>
<polygon points="362.80,461.50 357.05,471.50 368.55,471.50" fill="#000"/>
<polygon points="362.80,464.51 359.64,470.00 365.96,470.00" fill="#fff"/>
<polygon points="386.50,481.80 380.75,491.80 392.25,491.80" fill="#000"/>
<polygon points="386.50,484.81 383.34,490.30 389.66,490.30" fill="#fff"/>
<polygon points="410.20,525.50 404.45,535.50 415.95,535.50" fill="#000"/>
<polygon points="410.20,528.51 407.04,534.00 413.36,534.00" fill="#fff"/>
<polygon points="433.90,564.50 428.15,574.50 439.65,574.50" fill="#000"/>
<polygon points="433.90,567.51 430.74,573.00 437.06,573.00" fill="#fff"/>
<polygon points="457.60,575.50 451.85,585.50 463.35,585.50" fill="#000"/>
<polygon points="457.60,578.51 454.44,584.00 460.76,584.00" fill="#fff"/>
<polygon points="481.30,586.80 475.55,596.80 487.05,596.80" fill="#000"/>
<polygon points="481.30,589.81 478.14,595.30 484.46,595.30" fill="#fff"/>
<polygon points="505.00,591.00 499.25,601.00 510.75,601.00" fill="#000"/>
<polygon points="505.00,594.01 501.84,599.50 508.16,599.50" fill="#fff"/>
<ellipse cx="339.10" cy="462.50" rx="5.9" ry="4.9" fill="#000" stroke="none" stroke-width="0"/>
<ellipse cx="362.80" cy="461.20" rx="5.9" ry="4.9" fill="#000" stroke="none" stroke-width="0"/>
<ellipse cx="386.50" cy="467.30" rx="5.9" ry="4.9" fill="#000" stroke="none" stroke-width="0"/>
<ellipse cx="410.20" cy="491.30" rx="5.9" ry="4.9" fill="#000" stroke="none" stroke-width="0"/>
<ellipse cx="433.90" cy="510.30" rx="5.9" ry="4.9" fill="#000" stroke="none" stroke-width="0"/>
<ellipse cx="457.60" cy="538.20" rx="5.9" ry="4.9" fill="#000" stroke="none" stroke-width="0"/>
<ellipse cx="481.30" cy="537.80" rx="5.9" ry="4.9" fill="#000" stroke="none" stroke-width="0"/>
<ellipse cx="505.00" cy="543.70" rx="5.9" ry="4.9" fill="#000" stroke="none" stroke-width="0"/>
</svg></body></html>
